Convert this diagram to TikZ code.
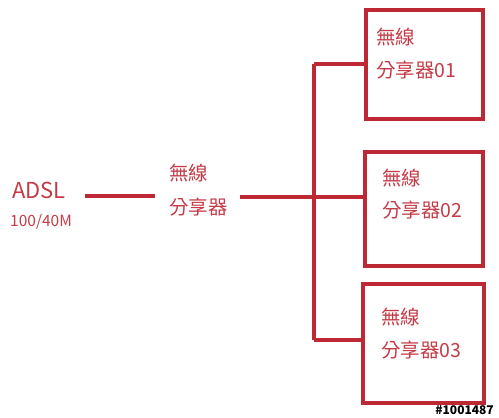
\documentclass[tikz,border=0pt]{standalone}
\usepackage{fontspec}
\setmainfont{Noto Sans CJK TC}
\usetikzlibrary{positioning}
\definecolor{wirered}{RGB}{190,40,52}
\definecolor{txtred}{RGB}{196,58,70}

\begin{document}
\begin{tikzpicture}[x=1pt,y=-1pt,
    wire/.style={draw=wirered,line width=3.5pt},
    apbox/.style={draw=wirered,line width=3.5pt,minimum width=117pt,minimum height=109pt,inner sep=0pt},
    redtxt/.style={text=txtred,anchor=west,inner sep=0pt,font=\fontsize{19.5}{23}\selectfont}]
\useasboundingbox (0,0) rectangle (499,418);

% ADSL side
\node[redtxt,font=\fontsize{22}{26}\selectfont] (adsl) at (12,190) {ADSL};
\node[redtxt,font=\fontsize{15.5}{18}\selectfont] (speed) at (10,222) {100/40M};
\coordinate (a0) at (85,196);
\coordinate (a1) at (155,196);
\draw[wire] (a0)--(a1);

% main router
\node[redtxt] (ap1) at (169,173) {無線};
\node[redtxt] (ap2) at (169,207) {分享器};
\coordinate (m0) at (240,197);

% three routers
\node[apbox] (r1) at (424.5,64.5) {};
\node[apbox,minimum width=118pt,minimum height=114pt] (r2) at (424,209) {};
\node[apbox,minimum width=121pt,minimum height=119pt] (r3) at (423.5,343.5) {};

\node[redtxt] at (376,37) {無線};
\node[redtxt] at (376,70) {分享器01};
\node[redtxt] at (382,178) {無線};
\node[redtxt] at (382,210) {分享器02};
\node[redtxt] at (381,317) {無線};
\node[redtxt] at (381,350) {分享器03};

% trunk
\coordinate (t1) at (314,64);
\coordinate (t2) at (314,197);
\coordinate (t3) at (314,340);
\draw[wire] (t1)--(t3);
\draw[wire] (t1)--(r1.west |- t1);
\draw[wire] (m0)--(r2.west |- t2);
\draw[wire] (t3)--(r3.west |- t3);

\node[font=\bfseries\fontsize{12}{14}\selectfont,anchor=east,inner sep=0pt] (mark) at (494,410) {\#1001487};
\end{tikzpicture}
\end{document}
